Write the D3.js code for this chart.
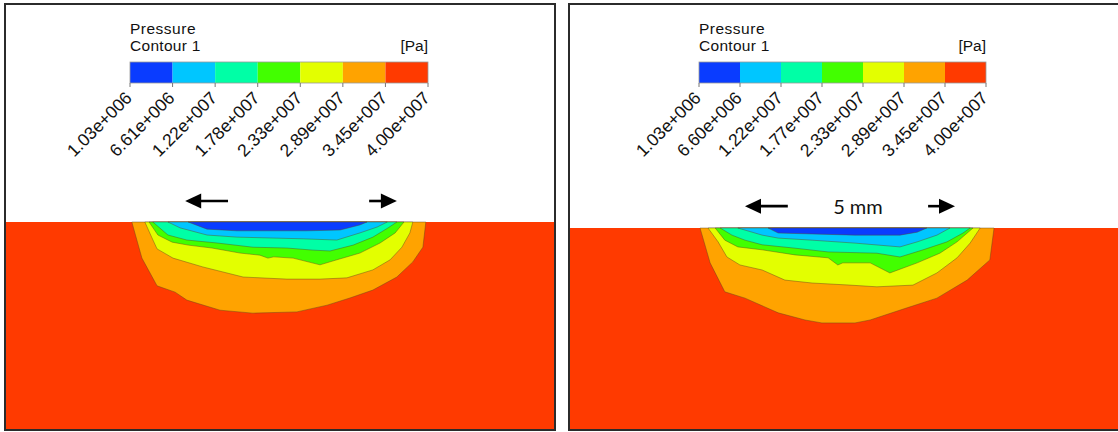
<!DOCTYPE html>
<html>
<head>
<meta charset="utf-8">
<script src="https://cdn.jsdelivr.net/npm/d3@7"></script>
<style>
  body { margin: 0; background: #fff; }
  svg { display: block; }
</style>
</head>
<body>
<svg id="chart" width="1118" height="432"></svg>
<script>
// legend levels (Pa), same colour map in both panels
const levelColors = ['#0a3cff', '#00c6ff', '#00ffa6', '#42ff00', '#e3ff00', '#ffa300', '#ff3a00'];
const ticksLeft = ['1.03e+006', '6.61e+006', '1.22e+007', '1.78e+007', '2.33e+007', '2.89e+007', '3.45e+007', '4.00e+007'];
const ticksRight = ['1.03e+006', '6.60e+006', '1.22e+007', '1.77e+007', '2.33e+007', '2.89e+007', '3.45e+007', '4.00e+007'];

// contour bands, [x from panel edge (mm), depth below surface (mm)]
const leftOrange = [[3.02,0],[3.26,0.86],[3.62,1.52],[4.05,1.67],[4.33,1.86],[5.12,2.10],[5.90,2.17],[6.95,2.14],[7.67,1.98],[8.21,1.81],[8.76,1.62],[9.33,1.31],[9.71,0.95],[9.95,0.60],[10.02,0]];
const leftYellow = [[3.33,0],[3.50,0.38],[3.62,0.64],[3.88,0.79],[4.00,0.86],[4.71,1.07],[5.67,1.31],[6.71,1.36],[7.50,1.36],[8.14,1.33],[8.76,1.14],[9.17,0.90],[9.45,0.60],[9.64,0.26],[9.71,0]];
const leftGreen = [[3.43,0],[3.64,0.31],[3.98,0.48],[4.36,0.55],[4.93,0.62],[5.60,0.74],[6.07,0.79],[6.26,0.86],[6.40,0.83],[6.86,0.86],[7.50,1.02],[7.90,0.90],[8.45,0.74],[8.93,0.50],[9.29,0.26],[9.50,0]];
const leftTeal = [[3.52,0],[3.88,0.31],[4.33,0.43],[5.05,0.50],[5.90,0.60],[6.71,0.62],[7.33,0.67],[7.74,0.69],[8.29,0.55],[8.76,0.36],[9.12,0.14],[9.33,0]];
const leftCyan = [[3.88,0],[4.17,0.14],[4.81,0.31],[5.52,0.36],[6.31,0.38],[7.10,0.40],[7.90,0.43],[8.45,0.26],[8.86,0.12],[9.10,0]];
const leftBlue = [[4.36,0],[4.81,0.17],[5.52,0.21],[6.31,0.21],[7.19,0.21],[7.98,0.19],[8.45,0.07],[8.62,0]];

const rightOrange = [[3.12,0],[3.36,0.83],[3.71,1.52],[4.19,1.67],[4.98,2.02],[5.62,2.19],[6.02,2.26],[6.81,2.26],[7.17,2.19],[8.05,1.90],[8.76,1.67],[9.48,1.24],[10.02,0.76],[10.12,0]];
const rightYellow = [[3.31,0],[3.55,0.33],[3.76,0.69],[4.07,0.88],[4.60,1.00],[5.14,1.24],[5.79,1.31],[6.69,1.36],[7.33,1.40],[8.19,1.36],[8.76,1.07],[9.24,0.71],[9.55,0.36],[9.79,0]];
const rightGreen = [[3.48,0],[3.71,0.29],[4.02,0.45],[4.60,0.52],[5.38,0.64],[6.17,0.71],[6.40,0.88],[6.52,0.83],[7.17,0.83],[7.64,1.07],[8.29,0.83],[8.83,0.60],[9.24,0.33],[9.62,0]];
const rightTeal = [[3.60,0],[3.88,0.17],[4.19,0.29],[4.60,0.40],[5.38,0.48],[6.17,0.57],[7.33,0.60],[7.88,0.69],[8.43,0.52],[9.00,0.33],[9.38,0.12],[9.55,0]];
const rightCyan = [[4.02,0],[4.60,0.17],[4.98,0.24],[5.79,0.29],[6.81,0.36],[7.88,0.45],[8.29,0.33],[8.76,0.17],[9.07,0]];
const rightBlue = [[4.74,0],[4.98,0.12],[6.81,0.17],[7.88,0.17],[8.29,0.10],[8.52,0]];

// arrows above the surface: tip and tail x (mm)
const arrowsLeft = [[4.29, 5.31], [9.33, 8.67]];
const arrowsRight = [[4.19, 5.21], [9.19, 8.55]];

const svg = d3.select('#chart');
const PX_PER_MM = 42;

const panels = [
  { x0: 5, x1: 555, top: 4, bottom: 430, surface: 222,
    legend: { x0: 130, x1: 428, y: 62, h: 21 }, labels: ticksLeft,
    bands: [leftOrange, leftYellow, leftGreen, leftTeal, leftCyan, leftBlue],
    arrows: arrowsLeft, arrowLift: 0.5, caption: null },
  { x0: 569, x1: 1124, top: 4, bottom: 430, surface: 228,
    legend: { x0: 699, x1: 986, y: 62, h: 21 }, labels: ticksRight,
    bands: [rightOrange, rightYellow, rightGreen, rightTeal, rightCyan, rightBlue],
    arrows: arrowsRight, arrowLift: 0.52, caption: '5 mm' }
];

panels.forEach((p, pi) => {
  const g = svg.append('g').attr('class', 'panel');
  const clipId = 'clip' + pi;
  svg.append('clipPath').attr('id', clipId)
    .append('rect').attr('x', p.x0).attr('y', p.top)
    .attr('width', p.x1 - p.x0).attr('height', p.bottom - p.top);

  g.append('rect')
    .attr('x', p.x0).attr('y', p.top)
    .attr('width', p.x1 - p.x0).attr('height', p.bottom - p.top)
    .attr('fill', '#fff');

  const x = d3.scaleLinear().domain([0, 1]).range([p.x0, p.x0 + PX_PER_MM]);
  const y = d3.scaleLinear().domain([0, 1]).range([p.surface, p.surface + PX_PER_MM]);

  const body = g.append('g').attr('clip-path', `url(#${clipId})`);
  // substrate at the top level
  body.append('rect')
    .attr('x', p.x0).attr('y', y(0))
    .attr('width', p.x1 - p.x0).attr('height', p.bottom - y(0))
    .attr('fill', levelColors[6]);

  const line = d3.line().x(d => x(d[0])).y(d => y(d[1]));
  // nested bands, outermost (orange) first
  body.selectAll('path.band')
    .data(p.bands)
    .join('path')
    .attr('class', 'band')
    .attr('d', d => line(d) + 'Z')
    .attr('fill', (d, i) => levelColors[5 - i])
    .attr('stroke', 'rgba(95,70,30,0.55)')
    .attr('stroke-width', 0.8)
    .attr('stroke-linejoin', 'round');

  // arrows
  const ay = y(-p.arrowLift);
  p.arrows.forEach(([tip, tail]) => {
    const dir = Math.sign(tip - tail);
    const tx = x(tip);
    g.append('line')
      .attr('x1', x(tail)).attr('x2', tx - dir * 10)
      .attr('y1', ay).attr('y2', ay)
      .attr('stroke', '#000').attr('stroke-width', 2.6);
    g.append('path')
      .attr('d', `M${tx},${ay}L${tx - dir * 16},${ay - 7.5}L${tx - dir * 16},${ay + 7.5}Z`)
      .attr('fill', '#000');
  });
  if (p.caption) {
    const mid = (p.arrows[0][1] + p.arrows[1][1]) / 2;
    g.append('text')
      .attr('x', x(mid)).attr('y', ay + 8)
      .attr('text-anchor', 'middle')
      .attr('font-family', 'Lato, "Open Sans", sans-serif')
      .attr('font-size', 20)
      .attr('fill', '#111')
      .text(p.caption);
  }

  // frame
  g.append('rect')
    .attr('x', p.x0).attr('y', p.top)
    .attr('width', p.x1 - p.x0).attr('height', p.bottom - p.top)
    .attr('fill', 'none')
    .attr('stroke', '#2b2b2b').attr('stroke-width', 2);

  // legend
  const L = p.legend;
  const lx = d3.scalePoint().domain(p.labels).range([L.x0, L.x1]);
  const lg = g.append('g').attr('class', 'legend')
    .attr('font-family', '"Liberation Sans", Arial, sans-serif')
    .attr('fill', '#111');
  lg.append('text').attr('x', L.x0).attr('y', 33.5).attr('font-size', 15.5)
    .attr('letter-spacing', 0.5).text('Pressure');
  lg.append('text').attr('x', L.x0).attr('y', 51).attr('font-size', 15.5)
    .attr('letter-spacing', 0.3).text('Contour 1');
  lg.append('text').attr('x', L.x1).attr('y', 51).attr('font-size', 15.5)
    .attr('text-anchor', 'end').text('[Pa]');

  lg.selectAll('rect.swatch')
    .data(levelColors)
    .join('rect')
    .attr('class', 'swatch')
    .attr('x', (d, i) => lx(p.labels[i]))
    .attr('y', L.y)
    .attr('width', (d, i) => lx(p.labels[i + 1]) - lx(p.labels[i]))
    .attr('height', L.h)
    .attr('fill', d => d);
  lg.append('rect')
    .attr('x', L.x0).attr('y', L.y)
    .attr('width', L.x1 - L.x0).attr('height', L.h)
    .attr('fill', 'none').attr('stroke', '#999').attr('stroke-width', 0.8);

  lg.selectAll('line.tick')
    .data(p.labels)
    .join('line')
    .attr('class', 'tick')
    .attr('x1', d => lx(d)).attr('x2', d => lx(d))
    .attr('y1', L.y + L.h).attr('y2', L.y + L.h + 4)
    .attr('stroke', '#777').attr('stroke-width', 1);

  lg.selectAll('text.tl')
    .data(p.labels)
    .join('text')
    .attr('class', 'tl')
    .attr('font-size', 17.5)
    .attr('text-anchor', 'end')
    .attr('transform', d => `translate(${lx(d) + 3},${L.y + L.h + 16}) rotate(-45)`)
    .text(d => d);
});
</script>
</body>
</html>
